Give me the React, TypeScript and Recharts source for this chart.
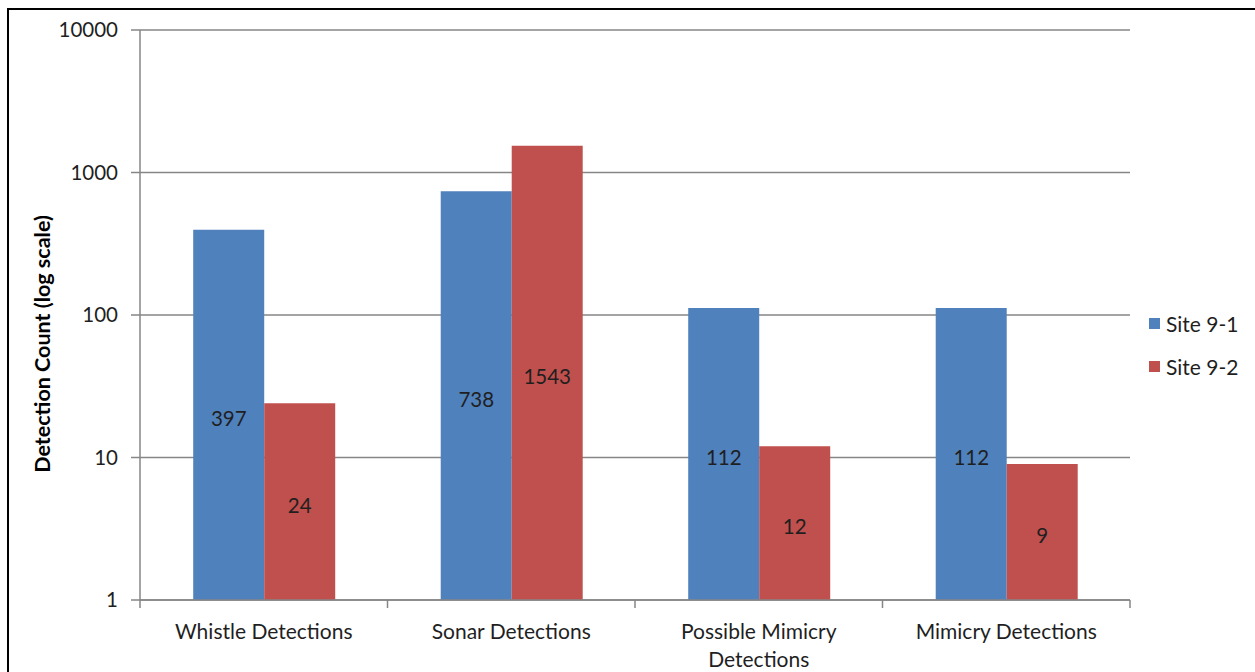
import { BarChart, Bar, XAxis, YAxis, CartesianGrid, LabelList } from 'recharts';

const categories = ['Whistle Detections', 'Sonar Detections', 'Possible Mimicry Detections', 'Mimicry Detections'];
const site91 = [397, 738, 112, 112];
const site92 = [24, 1543, 12, 9];
const yTicks = [1, 10, 100, 1000, 10000];

const data = categories.map((name, i) => ({ name, site91: site91[i], site92: site92[i] }));

const BLUE = '#4f81bd';
const RED = '#c0504d';
const AXIS = '#868686';
const FONT = 'Lato, "Open Sans", sans-serif';

// category ticks: label under center, tick marks on band edges
function CategoryTick(props: any) {
    const { x, y, payload, index } = props;
    const half = payload.offset || 0;
    const words: string[] = payload.value.split(' ');
    const lines = payload.value.length > 20 ? [words.slice(0, -1).join(' '), words[words.length - 1]] : [payload.value];
    return (
        <g>
            <line x1={x - half} x2={x - half} y1={y - 8} y2={y} stroke={AXIS} strokeWidth={1.5} />
            {index === categories.length - 1 && (
                <line x1={x + half} x2={x + half} y1={y - 8} y2={y} stroke={AXIS} strokeWidth={1.5} />
            )}
            <text x={x} y={y + 31} textAnchor="middle" fill="#1f1f1f" fontSize={21} fontFamily={FONT}>
                {lines.map((l, i) => (
                    <tspan key={i} x={x} dy={i === 0 ? 0 : 28}>{l}</tspan>
                ))}
            </text>
        </g>
    );
}

function AxisTitle() {
    return (
        <text
            x={42}
            y={344}
            transform="rotate(-90 42 344)"
            textAnchor="middle"
            dominantBaseline="central"
            fontWeight={700}
            fontSize={21.5}
            fill="#000"
            fontFamily={FONT}
        >
            Detection Count (log scale)
        </text>
    );
}

export default function App() {
    return (
        <div style={{ position: 'absolute', left: 0, top: 0, width: 1255, height: 672, background: '#fff', fontFamily: FONT }}>
            <div
                style={{
                    position: 'absolute',
                    left: 7,
                    top: 8,
                    width: 1270,
                    height: 700,
                    border: '2px solid #000',
                    boxSizing: 'border-box',
                }}
            />
            <div style={{ position: 'absolute', left: 0, top: 0 }}>
                <BarChart
                    width={1255}
                    height={672}
                    data={data}
                    margin={{ top: 30, right: 125, left: 60, bottom: 12 }}
                    barCategoryGap="21.5%"
                    barGap={0}
                >
                    <CartesianGrid vertical={false} stroke={AXIS} strokeWidth={1.5} />
                    <XAxis
                        dataKey="name"
                        height={60}
                        interval={0}
                        tick={<CategoryTick />}
                        tickLine={false}
                        axisLine={{ stroke: AXIS, strokeWidth: 1.5 }}
                    />
                    <YAxis
                        scale="log"
                        domain={[1, 10000]}
                        ticks={yTicks}
                        allowDataOverflow
                        width={80}
                        tickSize={9}
                        tickMargin={13}
                        tickLine={{ stroke: AXIS, strokeWidth: 1.5 }}
                        axisLine={{ stroke: AXIS, strokeWidth: 1.5 }}
                        tick={{ fill: '#1f1f1f', fontSize: 20.5, fontFamily: FONT }}
                        label={<AxisTitle />}
                    />
                    <Bar dataKey="site91" fill={BLUE} isAnimationActive={false}>
                        <LabelList dataKey="site91" position="center" dy={4} fill="#1f1f1f" fontSize={20.5} fontFamily={FONT} />
                    </Bar>
                    <Bar dataKey="site92" fill={RED} isAnimationActive={false}>
                        <LabelList dataKey="site92" position="center" dy={4} fill="#1f1f1f" fontSize={20.5} fontFamily={FONT} />
                    </Bar>
                </BarChart>
            </div>
            {[
                { label: 'Site 9-1', color: BLUE, top: 311 },
                { label: 'Site 9-2', color: RED, top: 354 },
            ].map((item) => (
                <div
                    key={item.label}
                    style={{ position: 'absolute', left: 1149, top: item.top, display: 'flex', alignItems: 'center', fontSize: 21, color: '#1f1f1f' }}
                >
                    <span style={{ width: 11, height: 11, background: item.color, display: 'inline-block', marginRight: 6 }} />
                    {item.label}
                </div>
            ))}
        </div>
    );
}
